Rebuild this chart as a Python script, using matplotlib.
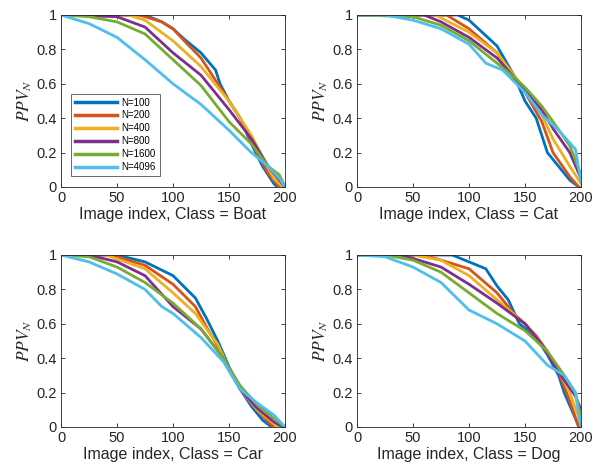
import numpy as np
import matplotlib
matplotlib.use("Agg")
import matplotlib.pyplot as plt

plt.rcParams['font.family'] = ['Liberation Sans', 'DejaVu Sans']
plt.rcParams['mathtext.fontset'] = 'stix'

labels = ["N=100", "N=200", "N=400", "N=800", "N=1600", "N=4096"]
colors = ["#0072BD", "#D95319", "#EDB120", "#7E2F8E", "#77AC30", "#4DBEEE"]

# Boat
boat_x = [
    [0, 75, 90, 100, 110, 125, 138, 142, 150, 160, 170, 180, 190, 193],
    [0, 70, 90, 100, 110, 125, 140, 150, 160, 175, 185, 195],
    [0, 60, 75, 100, 125, 150, 170, 178, 190, 198],
    [0, 50, 75, 100, 125, 150, 170, 185, 195, 200],
    [0, 25, 50, 75, 100, 125, 150, 170, 185, 195, 200],
    [0, 25, 50, 75, 100, 125, 150, 170, 185, 195, 200],
]
boat_y = [
    [1, 1, 0.96, 0.92, 0.86, 0.78, 0.68, 0.60, 0.50, 0.40, 0.25, 0.12, 0.02, 0],
    [1, 1, 0.96, 0.92, 0.85, 0.75, 0.60, 0.50, 0.40, 0.20, 0.08, 0],
    [1, 1, 0.97, 0.85, 0.70, 0.50, 0.30, 0.20, 0.05, 0],
    [1, 0.99, 0.93, 0.78, 0.65, 0.45, 0.28, 0.12, 0.04, 0],
    [1, 0.99, 0.96, 0.89, 0.74, 0.59, 0.38, 0.25, 0.12, 0.07, 0],
    [1, 0.95, 0.87, 0.74, 0.60, 0.48, 0.33, 0.20, 0.12, 0.05, 0],
]

# Cat
cat_x = [
    [0, 90, 100, 125, 140, 150, 160, 165, 170, 180, 190, 198],
    [0, 80, 100, 125, 140, 150, 165, 175, 190, 198],
    [0, 70, 100, 125, 140, 150, 165, 175, 190, 200],
    [0, 60, 75, 100, 125, 140, 150, 165, 175, 190, 200],
    [0, 50, 75, 100, 125, 140, 150, 165, 175, 190, 200],
    [0, 25, 50, 75, 100, 115, 130, 150, 165, 180, 195, 200],
]
cat_y = [
    [1, 1, 0.97, 0.82, 0.65, 0.50, 0.40, 0.30, 0.20, 0.12, 0.04, 0],
    [1, 1, 0.92, 0.78, 0.63, 0.55, 0.38, 0.20, 0.06, 0],
    [1, 1, 0.90, 0.78, 0.65, 0.57, 0.42, 0.28, 0.12, 0.02],
    [1, 1, 0.96, 0.87, 0.75, 0.64, 0.56, 0.45, 0.34, 0.20, 0.05],
    [1, 0.99, 0.94, 0.85, 0.72, 0.64, 0.58, 0.47, 0.38, 0.24, 0.07],
    [1, 1, 0.97, 0.92, 0.83, 0.72, 0.68, 0.55, 0.42, 0.33, 0.22, 0.03],
]

# Car
car_x = [
    [0, 50, 75, 100, 120, 130, 140, 150, 160, 170, 180, 188],
    [0, 45, 75, 100, 120, 130, 140, 150, 160, 175, 185, 190],
    [0, 40, 75, 100, 120, 140, 150, 160, 175, 190, 195],
    [0, 25, 50, 75, 100, 125, 145, 160, 175, 190, 198],
    [0, 25, 50, 75, 100, 125, 145, 160, 175, 190, 200],
    [0, 25, 50, 75, 90, 100, 125, 145, 160, 175, 190, 200],
]
car_y = [
    [1, 1, 0.96, 0.88, 0.75, 0.63, 0.50, 0.35, 0.22, 0.12, 0.04, 0],
    [1, 1, 0.94, 0.83, 0.70, 0.58, 0.47, 0.33, 0.22, 0.10, 0.03, 0],
    [1, 1, 0.92, 0.78, 0.66, 0.48, 0.34, 0.22, 0.10, 0.02, 0],
    [1, 1, 0.96, 0.88, 0.70, 0.57, 0.40, 0.22, 0.11, 0.03, 0],
    [1, 0.99, 0.93, 0.84, 0.72, 0.57, 0.40, 0.24, 0.13, 0.05, 0],
    [1, 0.96, 0.89, 0.80, 0.70, 0.66, 0.52, 0.38, 0.22, 0.14, 0.07, 0],
]

# Dog
dog_x = [
    [0, 85, 100, 115, 125, 135, 145, 160, 170, 180, 185, 195, 198],
    [0, 60, 100, 125, 140, 150, 160, 170, 180, 190, 198],
    [0, 50, 75, 100, 125, 150, 165, 180, 190, 200],
    [0, 40, 75, 100, 125, 150, 165, 180, 195, 200],
    [0, 25, 50, 75, 100, 125, 150, 170, 185, 195, 200],
    [0, 25, 50, 75, 100, 125, 150, 170, 185, 195, 200],
]
dog_y = [
    [1, 1, 0.96, 0.92, 0.82, 0.74, 0.60, 0.52, 0.42, 0.30, 0.20, 0.05, 0],
    [1, 1, 0.92, 0.78, 0.66, 0.60, 0.53, 0.44, 0.32, 0.15, 0],
    [1, 1, 0.97, 0.88, 0.74, 0.60, 0.48, 0.33, 0.20, 0.02],
    [1, 1, 0.93, 0.83, 0.72, 0.60, 0.48, 0.32, 0.18, 0.10],
    [1, 1, 0.97, 0.90, 0.78, 0.66, 0.56, 0.44, 0.30, 0.20, 0.05],
    [1, 0.99, 0.93, 0.84, 0.68, 0.60, 0.50, 0.36, 0.30, 0.20, 0],
]

classes = ["Boat", "Cat", "Car", "Dog"]
all_x = [boat_x, cat_x, car_x, dog_x]
all_y = [boat_y, cat_y, car_y, dog_y]

fig = plt.figure(figsize=(6.05, 4.71), dpi=100)
W, H = 605, 471
boxes = [(61, 15), (357, 15), (61, 255), (357, 255)]
aw, ah = 224, 172

for i, cls in enumerate(classes):
    left, top = boxes[i]
    ax = fig.add_axes([left / W, 1 - (top + ah) / H, aw / W, ah / H])
    for j in range(6):
        ax.plot(all_x[i][j], all_y[i][j], color=colors[j], lw=2.0, label=labels[j])
    ax.set_xlim(0, 200)
    ax.set_ylim(0, 1)
    ax.set_xticks([0, 50, 100, 150, 200])
    ax.set_yticks([0, 0.2, 0.4, 0.6, 0.8, 1])
    ax.set_yticklabels(["0", "0.2", "0.4", "0.6", "0.8", "1"])
    ax.tick_params(direction="in", top=True, right=True, labelsize=10.5,
                   colors="#262626", length=3, width=0.6, pad=3)
    for s in ax.spines.values():
        s.set_color("#262626")
        s.set_linewidth(0.6)
    ax.set_xlabel(f"Image index, Class = {cls}", fontsize=11.5, color="#262626", labelpad=1)
    ax.set_ylabel(r"$PPV_N$", fontsize=12.5, color="#262626", labelpad=2)
    if i == 0:
        leg = ax.legend(loc="lower left", bbox_to_anchor=(0.045, 0.064), fontsize=7,
                        handlelength=4.3, frameon=True, fancybox=False, borderaxespad=0,
                        labelspacing=0.3, handletextpad=0.5, borderpad=0.4)
        leg.get_frame().set_edgecolor("#262626")
        leg.get_frame().set_linewidth(0.6)
        for h in leg.get_lines():
            h.set_linewidth(2.5)

fig.savefig("out.png", dpi=100)
